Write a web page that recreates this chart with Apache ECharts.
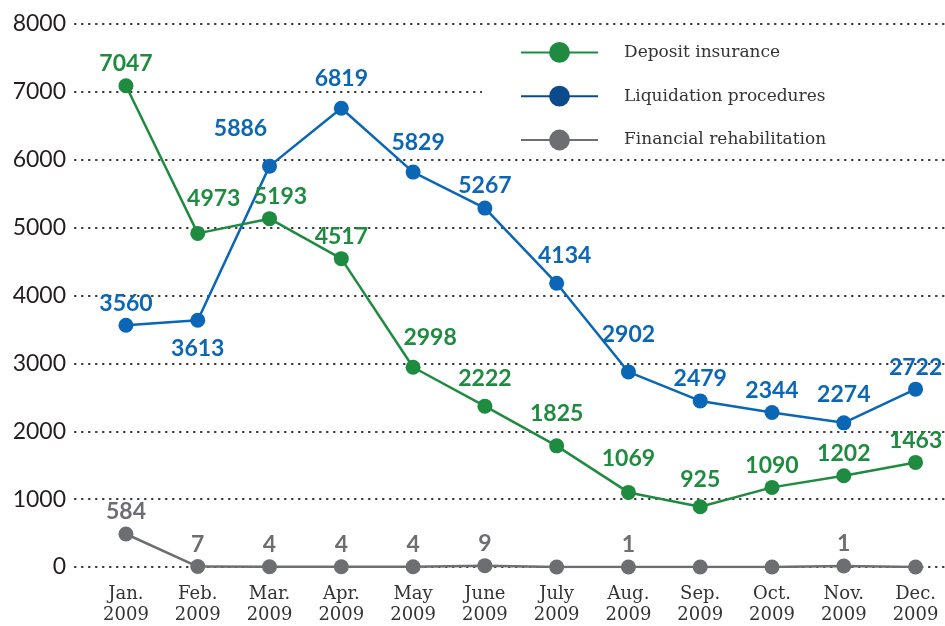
<!DOCTYPE html>
<html>
<head>
<meta charset="utf-8">
<script src="https://cdn.jsdelivr.net/npm/echarts@6/dist/echarts.min.js"></script>
<style>
  html, body { margin: 0; padding: 0; background: #fff; }
  #chart { width: 945px; height: 626px; }
</style>
</head>
<body>
<div id="chart"></div>
<script>
// months shown under the axis
var categories = ['Jan.\n2009', 'Feb.\n2009', 'Mar.\n2009', 'Apr.\n2009', 'May\n2009', 'June\n2009',
                  'July\n2009', 'Aug.\n2009', 'Sep.\n2009', 'Oct.\n2009', 'Nov.\n2009', 'Dec.\n2009'];

// point heights as drawn
var depositValues = [7090, 4915, 5132, 4543, 2943, 2370, 1785, 1099, 887, 1173, 1344, 1541];
var liquidationValues = [3561, 3635, 5906, 6759, 5818, 5288, 4180, 2874, 2447, 2277, 2124, 2620];
var rehabValues = [486, 7, 4, 4, 4, 20, 0, 1, 0, 0, 15, 0];

// numbers printed next to the points
var depositLabels = ['7047', '4973', '5193', '4517', '2998', '2222', '1825', '1069', '925', '1090', '1202', '1463'];
var liquidationLabels = ['3560', '3613', '5886', '6819', '5829', '5267', '4134', '2902', '2479', '2344', '2274', '2722'];
var rehabLabels = ['584', '7', '4', '4', '4', '9', '', '1', '', '', '1', ''];

var yTicks = [0, 1000, 2000, 3000, 4000, 5000, 6000, 7000, 8000];

var GREEN = '#1f8b40', BLUE = '#0b66b6', GRAY = '#6d6e71', NAVY = '#0b4a8b';

// small label nudges so the numbers sit like in the original
var nudges = {
  deposit: {1: [16, -13], 2: [11, 0], 4: [17, -8], 5: [0, -6], 6: [0, -10], 7: [0, -12], 8: [0, -5]},
  liquidation: {1: 'below', 2: [-29, -16], 3: [0, -8], 4: [5, -8], 6: [8, -6], 7: [0, -15], 10: [0, -6]},
  rehab: {}
};

function buildData(values, key) {
  return values.map(function (v, i) {
    var item = { value: [i, v] };
    var n = nudges[key][i];
    if (n === 'below') {
      item.label = { position: 'bottom', offset: [0, 6] };
    } else if (n) {
      item.label = { offset: n };
    }
    return item;
  });
}

function makeSeries(name, values, labels, key, color, z) {
  return {
    name: name,
    type: 'line',
    z: z,
    data: buildData(values, key),
    symbol: 'circle',
    symbolSize: 15,
    lineStyle: { color: color, width: 2.5 },
    itemStyle: { color: color },
    label: {
      show: true,
      position: 'top',
      distance: 3,
      color: color,
      fontFamily: 'Lato',
      fontWeight: 'bold',
      fontSize: 23,
      formatter: function (p) { return labels[p.dataIndex]; }
    },
    emphasis: { disabled: true },
    animation: false
  };
}

var chart = echarts.init(document.getElementById('chart'));
chart.setOption({
  backgroundColor: '#fff',
  animation: false,
  grid: { left: 75, right: 0, top: 24, bottom: 58 },
  legend: {
    orient: 'vertical',
    left: 482,
    top: 33,
    padding: [9, 120, 3, 38],
    backgroundColor: '#fff',
    itemWidth: 77,
    itemHeight: 26,
    itemGap: 23,
    textStyle: { fontFamily: 'DejaVu Serif', fontSize: 17, color: '#333', padding: [0, 0, 0, 21] },
    data: [
      { name: 'Deposit insurance' },
      { name: 'Liquidation procedures', itemStyle: { color: NAVY }, lineStyle: { color: NAVY } },
      { name: 'Financial rehabilitation' }
    ]
  },
  xAxis: {
    type: 'value',
    min: -0.71,
    max: 11.41,
    axisLine: { show: false },
    axisTick: { show: false },
    splitLine: { show: false },
    axisLabel: {
      customValues: categories.map(function (c, i) { return i; }),
      formatter: function (v) { return categories[Math.round(v)]; },
      fontFamily: 'DejaVu Serif',
      fontSize: 18,
      lineHeight: 21,
      color: '#333',
      margin: 17
    }
  },
  yAxis: {
    type: 'value',
    min: yTicks[0],
    max: yTicks[yTicks.length - 1],
    interval: 1000,
    axisLine: { show: false },
    axisTick: { show: false },
    axisLabel: {
      fontFamily: 'Lato', fontSize: 23, color: '#231f20', margin: 9,
      formatter: function (v) { return String(v); }
    },
    splitLine: {
      lineStyle: { color: '#333', width: 2.2, type: [0.5, 6.5], cap: 'round' }
    }
  },
  series: [
    makeSeries('Financial rehabilitation', rehabValues, rehabLabels, 'rehab', GRAY, 2),
    makeSeries('Liquidation procedures', liquidationValues, liquidationLabels, 'liquidation', BLUE, 3),
    makeSeries('Deposit insurance', depositValues, depositLabels, 'deposit', GREEN, 4)
  ]
});
</script>
</body>
</html>
